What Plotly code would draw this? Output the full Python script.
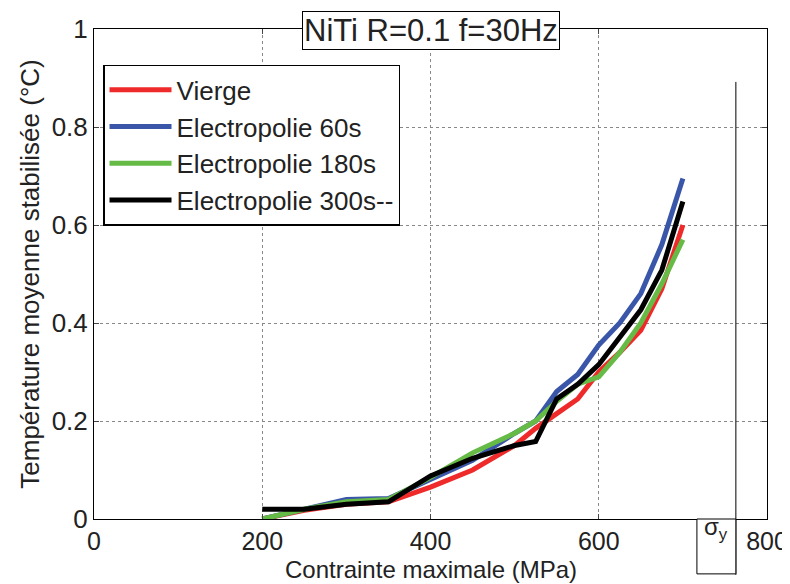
import plotly.graph_objects as go

stress = [200, 250, 300, 350, 400, 450, 500, 525, 550, 575, 600, 625, 650, 675, 700]
vierge = [0.0, 0.018, 0.03, 0.035, 0.065, 0.10, 0.15, 0.185, 0.215, 0.245, 0.30, 0.34, 0.385, 0.47, 0.60]
ep60 = [0.0, 0.02, 0.04, 0.042, 0.08, 0.12, 0.175, 0.20, 0.26, 0.295, 0.355, 0.40, 0.46, 0.56, 0.695]
ep180 = [0.0, 0.02, 0.035, 0.04, 0.085, 0.135, 0.175, 0.20, 0.24, 0.275, 0.29, 0.34, 0.40, 0.48, 0.57]
ep300 = [0.02, 0.02, 0.03, 0.035, 0.088, 0.124, 0.15, 0.158, 0.245, 0.275, 0.315, 0.37, 0.427, 0.508, 0.648]

names = ["Vierge", "Electropolie 60s", "Electropolie 180s", "Electropolie 300s--"]
colors = ["#ee2a2a", "#3a56a8", "#66bb46", "#000000"]
series = [vierge, ep60, ep180, ep300]

x_ticks = [0, 200, 400, 600, 800]
y_ticks = [0, 0.2, 0.4, 0.6, 0.8, 1]
y_tick_labels = ["0", "0.2", "0.4", "0.6", "0.8", "1"]
sigma_y = 763

FONT = "Liberation Sans, Arial, sans-serif"
TXT = "#222"

fig = go.Figure()
for name, col, vals in zip(names, colors, series):
    fig.add_trace(go.Scatter(x=stress, y=vals, mode="lines", name=name,
                             line=dict(color=col, width=5)))

fig.update_layout(
    width=790, height=584,
    margin=dict(l=86, r=31, t=21, b=73),
    paper_bgcolor="white", plot_bgcolor="white",
    font=dict(family=FONT, size=26, color=TXT),
    showlegend=True,
    legend=dict(x=0.0134, y=0.927, xanchor="left", yanchor="top",
                bordercolor="black", borderwidth=1.5, bgcolor="white",
                font=dict(size=26, family=FONT, color=TXT),
                itemwidth=62, tracegroupgap=0),
)
fig.update_xaxes(range=[0, 800], tickvals=x_ticks, ticks="inside", ticklen=5,
                 showline=True, linecolor="black", linewidth=1, mirror="ticks",
                 showgrid=True, gridcolor="#888", griddash="dot", gridwidth=1,
                 zeroline=False, automargin=False,
                 tickfont=dict(size=25, family=FONT, color=TXT))
fig.update_yaxes(range=[0, 1], tickvals=y_ticks, ticktext=y_tick_labels, ticks="inside", ticklen=5,
                 showline=True, linecolor="black", linewidth=1, mirror="ticks",
                 showgrid=True, gridcolor="#888", griddash="dot", gridwidth=1,
                 zeroline=False, automargin=False,
                 tickfont=dict(size=26, family=FONT, color=TXT),
                 title=dict(text="Température moyenne stabilisée (°C)", font=dict(size=26, family=FONT, color=TXT), standoff=4))

# x-axis title as annotation so that it stays inside the visible page
fig.add_annotation(xref="paper", yref="paper", x=0.5, y=-0.133, xanchor="center", yanchor="bottom",
                   text="Contrainte maximale (MPa)", showarrow=False, borderpad=0,
                   font=dict(size=24, family=FONT, color=TXT))

# sigma_y vertical line and labelled box
fig.add_shape(type="line", xref="x", yref="paper", x0=sigma_y, x1=sigma_y, y0=0.892, y1=-0.114,
              line=dict(color="black", width=1))
fig.add_shape(type="rect", xref="x", yref="paper", x0=716.7, x1=sigma_y, y0=0, y1=-0.112,
              line=dict(color="black", width=1), fillcolor="white")
fig.add_annotation(xref="x", yref="paper", x=(716.7 + sigma_y) / 2, y=-0.056,
                   text="σ<sub>y</sub>", showarrow=False,
                   font=dict(size=24, family=FONT, color=TXT))

# title box
fig.add_annotation(xref="paper", yref="paper", x=0.5, y=0.996, xanchor="center", yanchor="middle",
                   text="NiTi R=0.1 f=30Hz", showarrow=False,
                   bordercolor="black", borderwidth=1, bgcolor="white", borderpad=1,
                   font=dict(size=31, family=FONT, color=TXT))

fig.write_html("out.html")
